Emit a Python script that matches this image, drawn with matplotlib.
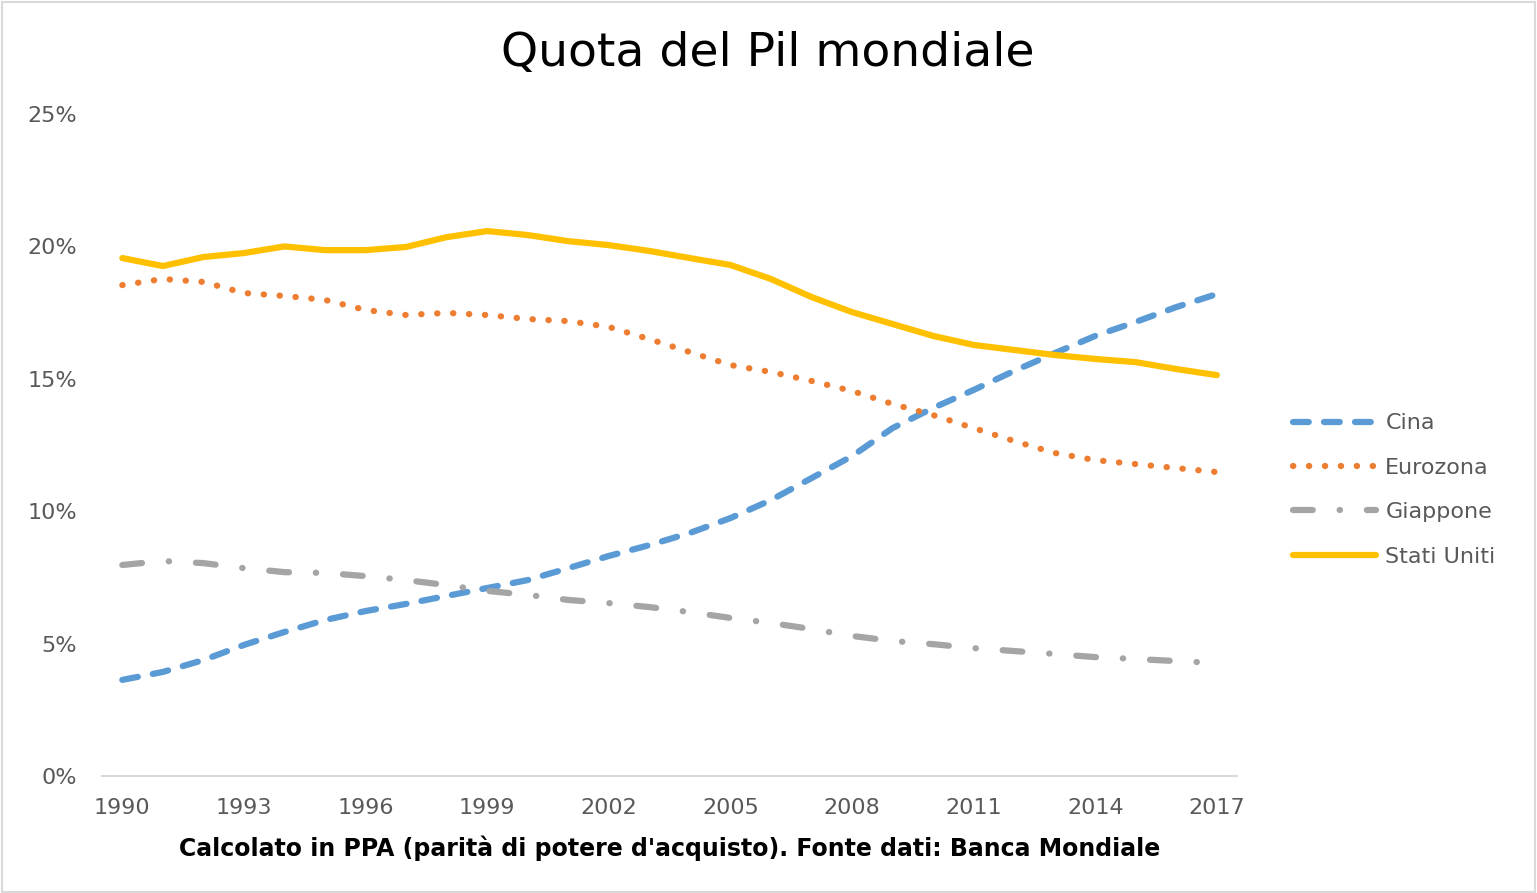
import matplotlib
matplotlib.use("Agg")
from matplotlib import pyplot as plt
from matplotlib.patches import Rectangle

# anni e quote del Pil mondiale (%)
anni = list(range(1990, 2018))
cina = [3.63, 3.93, 4.38, 4.95, 5.44, 5.89, 6.23, 6.50, 6.80, 7.10,
        7.40, 7.85, 8.31, 8.72, 9.18, 9.74, 10.42, 11.25, 12.08, 13.14,
        13.90, 14.58, 15.30, 15.97, 16.62, 17.15, 17.71, 18.20]
eurozona = [18.54, 18.77, 18.66, 18.24, 18.13, 17.98, 17.60, 17.41, 17.49, 17.41,
            17.26, 17.18, 16.96, 16.50, 16.01, 15.52, 15.26, 14.92, 14.54, 14.05,
            13.63, 13.14, 12.65, 12.20, 11.93, 11.78, 11.63, 11.48]
giappone = [7.97, 8.12, 8.04, 7.85, 7.70, 7.67, 7.55, 7.40, 7.21, 6.99,
            6.84, 6.65, 6.53, 6.38, 6.19, 5.97, 5.78, 5.55, 5.29, 5.10,
            4.98, 4.83, 4.72, 4.61, 4.49, 4.42, 4.34, 4.27]
stati_uniti = [19.56, 19.26, 19.60, 19.75, 20.00, 19.86, 19.86, 19.98, 20.35, 20.58,
               20.43, 20.20, 20.05, 19.83, 19.56, 19.30, 18.77, 18.09, 17.52, 17.07,
               16.62, 16.28, 16.09, 15.90, 15.75, 15.63, 15.37, 15.14]

x_ticks = list(range(1990, 2018, 3))
y_ticks = [0, 5, 10, 15, 20, 25]

plt.rcParams['font.family'] = ['DejaVu Sans']
testo = '#595959'

fig = plt.figure(figsize=(15.37, 8.93), dpi=100)
ax = fig.add_axes([0.0664, 0.131, 0.7385, 0.7413])

lw = 4.5
ax.plot(anni, cina, color='#5B9BD5', lw=lw, dashes=(2.52, 2.44),
        dash_capstyle='round', label='Cina')
ax.plot(anni, eurozona, color='#ED7D31', lw=lw, dashes=(0.05, 2.5),
        dash_capstyle='round', label='Eurozona')
ax.plot(anni, giappone, color='#A5A5A5', lw=lw, dashes=(3.16, 4.3, 0.05, 4.3),
        dash_capstyle='round', label='Giappone')
ax.plot(anni, stati_uniti, color='#FFC000', lw=lw,
        solid_capstyle='round', solid_joinstyle='round', label='Stati Uniti')

ax.set_xlim(1989.5, 2017.5)
ax.set_ylim(0, 25)
ax.set_xticks(x_ticks)
ax.set_yticks(y_ticks)
ax.set_yticklabels([f"{v}%" for v in y_ticks])
ax.tick_params(axis='both', length=0, labelsize=16, colors=testo)
ax.tick_params(axis='y', pad=18)
ax.tick_params(axis='x', pad=16)

for s in ['top', 'right', 'left']:
    ax.spines[s].set_visible(False)
ax.spines['bottom'].set_color('#D9D9D9')
ax.spines['bottom'].set_linewidth(1.5)

fig.text(0.4997, 0.94, "Quota del Pil mondiale", ha='center', va='center',
         fontsize=34, color='black')
fig.text(0.4357, 0.050, "Calcolato in PPA (parità di potere d'acquisto). Fonte dati: Banca Mondiale",
         ha='center', va='center', fontsize=17, fontweight='bold', color='black')

fig.legend(loc='center left', bbox_to_anchor=(0.8413, 0.4513),
           bbox_transform=fig.transFigure, frameon=False, fontsize=16,
           handlelength=3.75, handletextpad=0.4, labelspacing=1.1,
           borderpad=0, borderaxespad=0, labelcolor=testo)

fig.patches.append(Rectangle((0.001, 0.001), 0.998, 0.997, transform=fig.transFigure,
                             fill=False, edgecolor='#D9D9D9', lw=1.5))

fig.savefig("out.png", dpi=100)
